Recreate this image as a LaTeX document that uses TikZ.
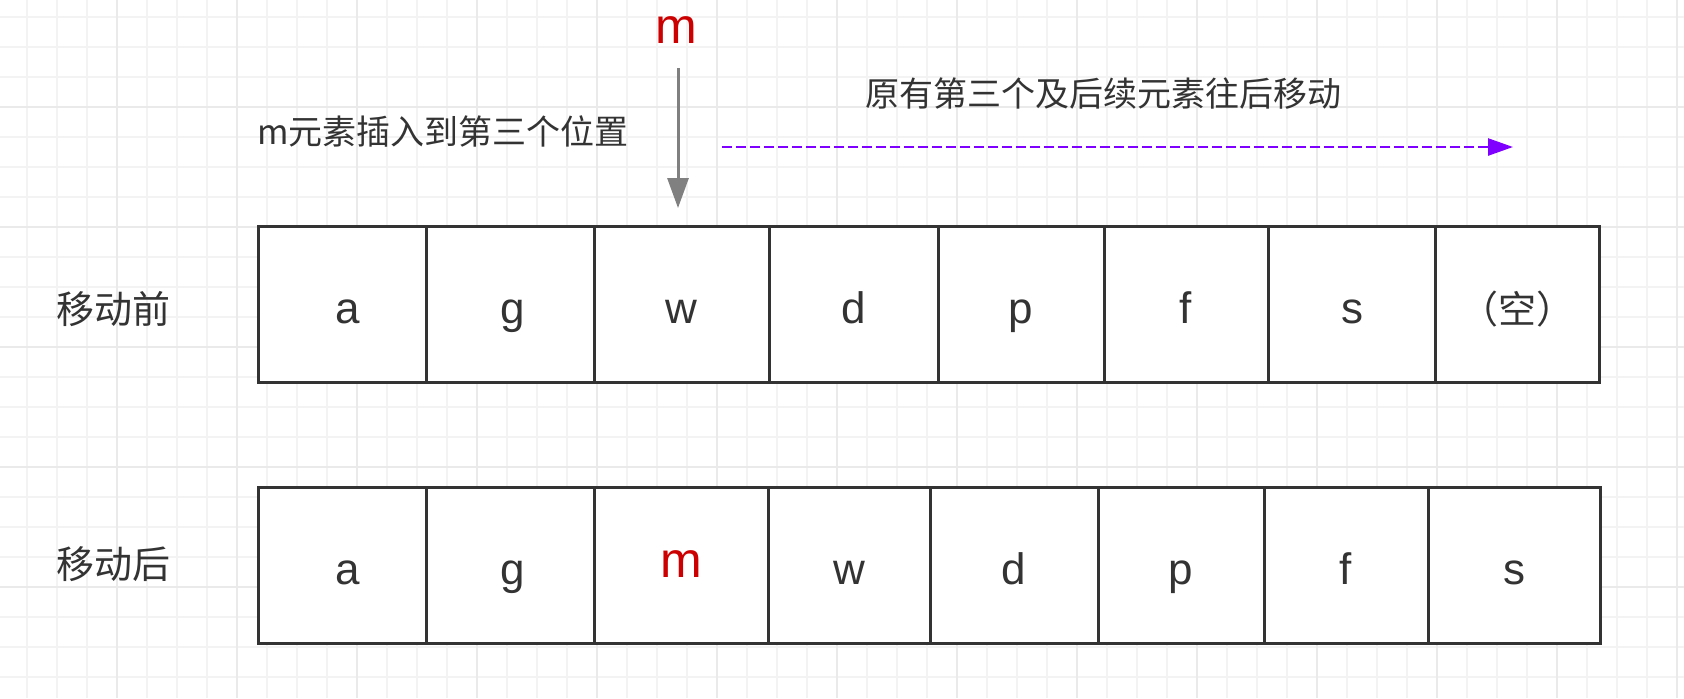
\documentclass[tikz,border=0pt]{standalone}
\usepackage{fontspec}
\setmainfont{Liberation Sans}
\newfontfamily\cjk{Noto Sans CJK SC}
\usetikzlibrary{arrows.meta}
\definecolor{boxline}{RGB}{51,51,51}
\definecolor{txt}{RGB}{51,51,51}
\definecolor{mred}{RGB}{204,0,0}
\definecolor{agray}{RGB}{128,128,128}
\definecolor{apurple}{RGB}{127,0,255}
\definecolor{gminor}{RGB}{243,243,243}
\definecolor{gmajor}{RGB}{234,234,234}
\begin{document}
\begin{tikzpicture}[x=0.5pt,y=-0.5pt,
  cell/.style={draw=boxline, line width=1.5pt, fill=white, inner sep=0pt,
    minimum height=78pt, text height=19pt, text depth=0pt,
    font=\fontsize{22}{22}\selectfont, text=txt},
  rowlabel/.style={inner sep=0pt, text=txt, font=\cjk\fontsize{19}{19}\selectfont},
  note/.style={inner sep=0pt, text=txt, font=\cjk\fontsize{17}{17}\selectfont},
  redm/.style={text=mred, font=\fontsize{25}{25}\selectfont},
  gridminor/.style={draw=gminor, line width=1pt},
  gridmajor/.style={draw=gmajor, line width=1pt}]
\useasboundingbox (0,0) rectangle (1684,698);
\fill[white] (0,0) rectangle (1684,698);
% background grid
\foreach \i in {0,...,55} \draw[gridminor] ({27+30*\i},0) -- ({27+30*\i},698);
\foreach \j in {0,...,22} \draw[gridminor] (0,{17+30*\j}) -- (1684,{17+30*\j});
\foreach \i in {0,...,13} \draw[gridmajor] ({117+120*\i},0) -- ({117+120*\i},698);
\foreach \j in {0,...,4} \draw[gridmajor] (0,{107+120*\j}) -- (1684,{107+120*\j});

% top row (before moving)
\node[cell, minimum width=84pt]   (t1) at (342,304)    {\hspace{6pt}a};
\node[cell, minimum width=84pt]   (t2) at (510,304)    {\hspace{3pt}g};
\node[cell, minimum width=87.5pt] (t3) at (681.5,304)  {w};
\node[cell, minimum width=84.5pt] (t4) at (853.5,304)  {d};
\node[cell, minimum width=83pt]   (t5) at (1021,304)   {p};
\node[cell, minimum width=82pt]   (t6) at (1186,304)   {f};
\node[cell, minimum width=84pt]   (t7) at (1352,304)   {s};
\node[cell, minimum width=82pt, font=\cjk\fontsize{19}{19}\selectfont] (t8) at (1517,304) {（空）};

% bottom row (after moving)
\node[cell, minimum width=84pt] (b1) at (342,565)  {\hspace{6pt}a};
\node[cell, minimum width=84pt] (b2) at (510,565)  {\hspace{3pt}g};
\node[cell, minimum width=87pt, redm, text height=12pt] (b3) at (681,565) {m};
\node[cell, minimum width=81pt] (b4) at (849,565)  {w};
\node[cell, minimum width=84pt] (b5) at (1014,565) {d};
\node[cell, minimum width=83pt] (b6) at (1181,565) {p};
\node[cell, minimum width=82pt] (b7) at (1346,565) {f};
\node[cell, minimum width=86pt] (b8) at (1514,565) {s};

% row labels
\node[rowlabel] (lbefore) at (113,309) {移动前};
\node[rowlabel] (lafter)  at (113,564) {移动后};

% inserted element and notes
\node[redm, inner sep=0pt, anchor=base] (mtop) at (676,43) {m};
\node[note, anchor=west] (ninsert) at (257,131) {m元素插入到第三个位置};
\node[note] (nshift) at (1103,94) {原有第三个及后续元素往后移动};

% arrows
\coordinate (gs) at (678,68);
\coordinate (ge) at (678,208);
\draw[agray, line width=1.5pt, -{Triangle[length=15pt,width=10.5pt]}] (gs) -- (ge);
\coordinate (ps) at (722,147);
\coordinate (pe) at (1513,147);
\draw[apurple, line width=1.25pt, dash pattern=on 5pt off 2pt,
  -{Triangle[length=12.5pt,width=8.5pt]}] (ps) -- (pe);
\end{tikzpicture}
\end{document}
